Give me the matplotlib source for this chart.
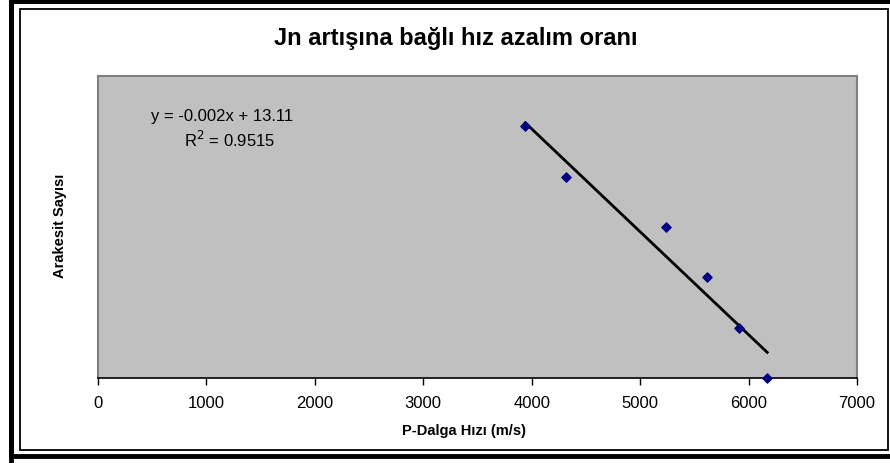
import numpy as np
import matplotlib
matplotlib.use("Agg")
import matplotlib.pyplot as plt
from matplotlib.patches import Rectangle

# data
p_wave_speed = [3941, 4313, 5243, 5612, 5908, 6172]
section_count = [5, 4, 3, 2, 1, 0]
x_ticks = [0, 1000, 2000, 3000, 4000, 5000, 6000, 7000]

title = "Jn artışına bağlı hız azalım oranı"
x_label = "P-Dalga Hızı (m/s)"
y_label = "Arakesit Sayısı"
equation_text = "y = -0.002x + 13.11"
r2_text = "R$^2$ = 0.9515"

plt.rcParams["font.family"] = ["Liberation Sans", "DejaVu Sans"]

fig = plt.figure(figsize=(8.9, 4.64), dpi=100)
W, H = 890, 464

# outer frames (thick black + thin inner)
fig.patches.append(Rectangle((10.5 / W, -0.05), 2.0, 1.0 - 1.5 / H + 0.05,
                             transform=fig.transFigure, fill=False,
                             edgecolor="black", linewidth=3.5))
fig.patches.append(Rectangle((20 / W, 1 - 451 / H), 868 / W, 441 / H,
                             transform=fig.transFigure, fill=False,
                             edgecolor="black", linewidth=1.3))
fig.patches.append(Rectangle((10.5 / W, 1 - 456.5 / H), 2.0, 455 / H,
                             transform=fig.transFigure, fill=False,
                             edgecolor="black", linewidth=3.5))

ax = fig.add_axes([98 / W, 1 - 379 / H, 759 / W, 302 / H])
ax.set_facecolor("#C0C0C0")

ax.scatter(p_wave_speed, section_count, marker="D", s=22, color="#000080",
           zorder=3, clip_on=False)

slope, intercept = np.polyfit(p_wave_speed, section_count, 1)
xs = np.array([min(p_wave_speed), max(p_wave_speed)])
ax.plot(xs, slope * xs + intercept, color="black", linewidth=2, zorder=2)

ax.set_xlim(0, 7000)
ax.set_ylim(0, 6)
ax.set_xticks(x_ticks)
ax.set_xticklabels([str(t) for t in x_ticks], fontsize=12)
ax.set_yticks([])
ax.tick_params(axis="x", direction="out", length=5, width=1, pad=7)

for side in ["top", "right", "left"]:
    ax.spines[side].set_color("#808080")
    ax.spines[side].set_linewidth(1.5)
ax.spines["bottom"].set_color("black")
ax.spines["bottom"].set_linewidth(1.2)

ax.text((222 - 98) / 759, 1 - (116 - 77) / 302, equation_text,
        transform=ax.transAxes, ha="center", va="center", fontsize=12)
ax.text((230 - 98) / 759, 1 - (140 - 77) / 302, r2_text,
        transform=ax.transAxes, ha="center", va="center", fontsize=12)

fig.text(456 / W, 1 - 38 / H, title, ha="center", va="center",
         fontsize=17, fontweight="bold")
fig.text(464 / W, 1 - 431 / H, x_label, ha="center", va="center",
         fontsize=10.5, fontweight="bold")
fig.text(60 / W, 1 - 226 / H, y_label, ha="center", va="center",
         fontsize=10.5, fontweight="bold", rotation=90)

fig.savefig("out.png", dpi=100, facecolor="white")
